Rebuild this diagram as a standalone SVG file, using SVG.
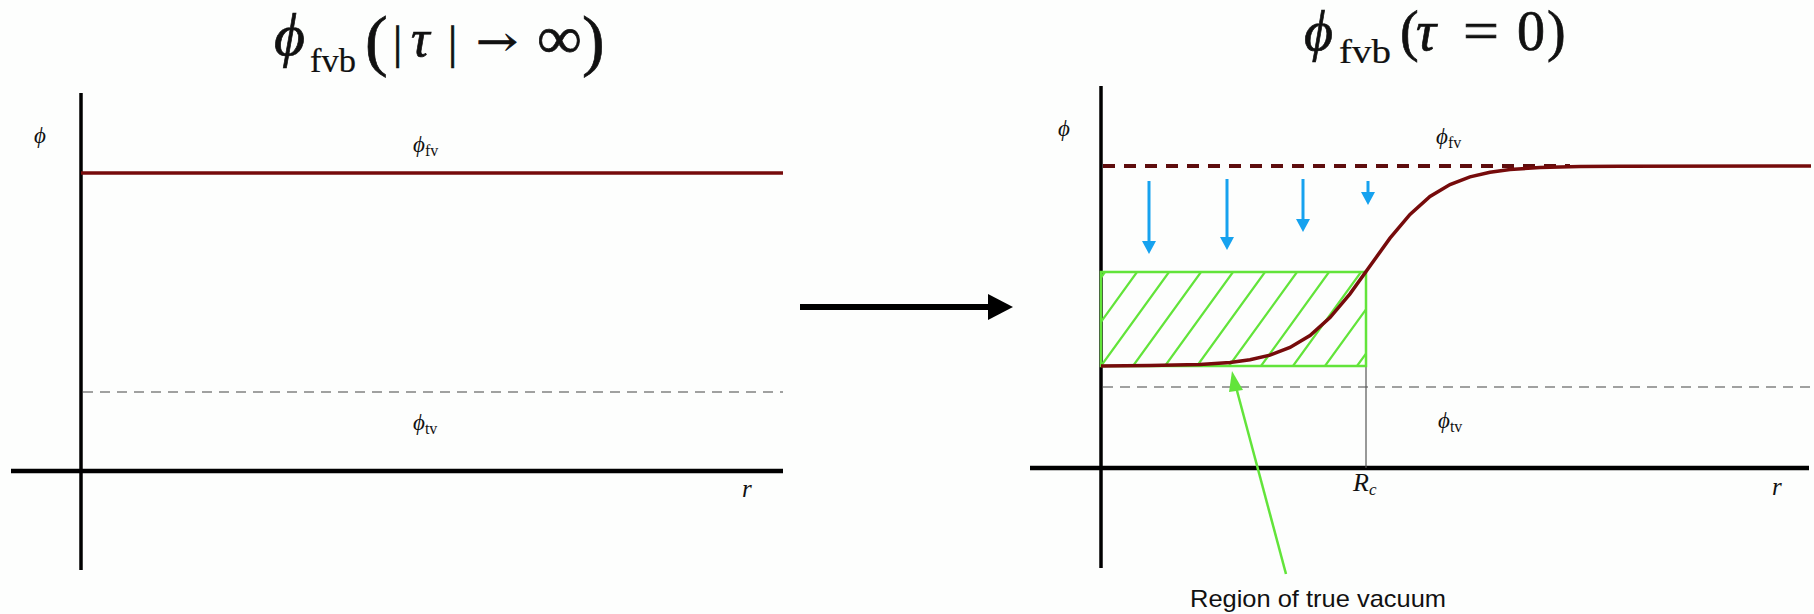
<svg xmlns="http://www.w3.org/2000/svg" width="1814" height="614" viewBox="0 0 1814 614">
<defs>
<style>
.serif{font-family:"Liberation Serif","DejaVu Serif",serif;fill:#111}
.title text{stroke:#111;stroke-width:0.7}
.title text.s{stroke-width:0.2}
.it{font-style:italic}
.axis{stroke:#000;fill:none}
.red{stroke:#760b0b;stroke-width:3.5;fill:none}
.gray{stroke:#444;stroke-width:1.2;stroke-dasharray:10 7;fill:none}
.green{stroke:#62e43a;fill:none}
.blue{stroke:#16a2ef;stroke-width:3;fill:none}
.lbl{font-size:23px}
.sub{font-size:16px}
</style>
<marker id="blueHead" viewBox="0 0 13 14" refX="9" refY="7" markerWidth="13" markerHeight="14" markerUnits="userSpaceOnUse" orient="auto">
<path d="M0,0 L13,7 L0,14 Z" fill="#16a2ef"/>
</marker>
<clipPath id="rectClip"><rect x="1101" y="272" width="265" height="94"/></clipPath>
</defs>
<rect width="1814" height="614" fill="#fdfefd"/>

<g id="left-panel">
<g id="left-title" class="serif title">
<text x="274" y="55" class="it" font-size="60">ϕ</text>
<text x="310" y="72" class="s" font-size="34" textLength="46" lengthAdjust="spacingAndGlyphs">fvb</text>
<text x="365" y="63" font-size="68">(</text>
<text x="393" y="58" font-size="46">|</text>
<text x="411" y="56" class="it" font-size="52">τ</text>
<text x="448" y="58" font-size="46">|</text>
<text x="476" y="55" font-family="'DejaVu Serif',serif" font-size="40" textLength="42" lengthAdjust="spacingAndGlyphs">→</text>
<text x="537" y="58" font-size="60" textLength="45" lengthAdjust="spacingAndGlyphs">∞</text>
<text x="582" y="63" font-size="68">)</text>
</g>
<line class="axis" x1="81" y1="93" x2="81" y2="570" stroke-width="3.5"/>
<line class="axis" x1="11" y1="471" x2="783" y2="471" stroke-width="4.5"/>
<line class="red" x1="81" y1="173" x2="783" y2="173"/>
<line class="gray" x1="83" y1="392" x2="783" y2="392"/>
<text x="34" y="143" class="serif it lbl">ϕ</text>
<text x="413" y="152" class="serif lbl"><tspan class="it">ϕ</tspan><tspan class="sub" dy="4">fv</tspan></text>
<text x="413" y="430" class="serif lbl"><tspan class="it">ϕ</tspan><tspan class="sub" dy="4">tv</tspan></text>
<text x="742" y="497" class="serif it" font-size="25">r</text>
</g>

<g id="right-panel">
<g id="right-title" class="serif title">
<text x="1304" y="50" class="it" font-size="56">ϕ</text>
<text x="1339" y="63" class="s" font-size="34" textLength="52" lengthAdjust="spacingAndGlyphs">fvb</text>
<text x="1400" y="50" font-size="56">(</text>
<text x="1416" y="50" class="it" font-size="56">τ</text>
<text x="1463" y="50" font-size="56" textLength="36" lengthAdjust="spacingAndGlyphs">=</text>
<text x="1517" y="50" font-size="56">0</text>
<text x="1547" y="50" font-size="56">)</text>
</g>
<line class="axis" x1="1101" y1="86" x2="1101" y2="568" stroke-width="3.5"/>
<line class="axis" x1="1030" y1="468" x2="1809" y2="468" stroke-width="4.5"/>
<line x1="1103" y1="166" x2="1570" y2="166" stroke="#5e0d0d" stroke-width="4" stroke-dasharray="12 9"/>
<line class="gray" x1="1103" y1="387" x2="1811" y2="387"/>
<line x1="1366" y1="366" x2="1366" y2="468" stroke="#555" stroke-width="1.2"/>
<g id="true-vacuum-region">
<g clip-path="url(#rectClip)" class="green" stroke-width="2.2">
<path d="M1105,272 L1037,366 M1137,272 L1069,366 M1169,272 L1101,366 M1201,272 L1133,366 M1233,272 L1165,366 M1265,272 L1197,366 M1297,272 L1229,366 M1329,272 L1261,366 M1361,272 L1293,366 M1393,272 L1325,366 M1425,272 L1357,366"/>
</g>
<rect class="green" x="1101" y="272" width="265" height="94" stroke-width="2.5"/>
</g>
<path id="bubble-profile" class="red" d="M1101,366 L1150,365.6 L1200,364.5 L1230,362.4 L1250,359.7 L1270,355.1 L1290,347.5 L1310,335.5 L1330,317.6 L1350,293.8 L1370,266 L1390,238.2 L1410,214.4 L1430,196.5 L1450,184.5 L1470,176.9 L1490,172.3 L1510,169.6 L1540,167.5 L1580,166.5 L1620,166.2 L1811,166"/>
<text x="1058" y="136" class="serif it lbl">ϕ</text>
<text x="1436" y="144" class="serif lbl"><tspan class="it">ϕ</tspan><tspan class="sub" dy="4">fv</tspan></text>
<text x="1438" y="428" class="serif lbl"><tspan class="it">ϕ</tspan><tspan class="sub" dy="4">tv</tspan></text>
<text x="1772" y="495" class="serif it" font-size="25">r</text>
<text x="1353" y="491" class="serif it" font-size="26">R<tspan font-size="17" dy="4">c</tspan></text>
<text id="region-label" x="1190" y="607" font-family="'Liberation Sans','Helvetica',sans-serif" font-size="24" fill="#111" textLength="256" lengthAdjust="spacingAndGlyphs">Region of true vacuum</text>
</g>

<g id="connectors">
<line x1="800" y1="307" x2="990" y2="307" stroke="#000" stroke-width="6"/>
<path d="M988,294 L1013,307 L988,320 Z" fill="#000"/>
<line class="blue" x1="1149" y1="181" x2="1149" y2="250" marker-end="url(#blueHead)"/>
<line class="blue" x1="1227" y1="179" x2="1227" y2="246" marker-end="url(#blueHead)"/>
<line class="blue" x1="1303" y1="179" x2="1303" y2="228" marker-end="url(#blueHead)"/>
<line class="blue" x1="1368" y1="181" x2="1368" y2="201" marker-end="url(#blueHead)"/>
<line x1="1286" y1="574" x2="1236" y2="387" stroke="#62e43a" stroke-width="2.5"/>
<path d="M1232,371 L1243,390 L1229,392 Z" fill="#62e43a"/>
</g>
</svg>
